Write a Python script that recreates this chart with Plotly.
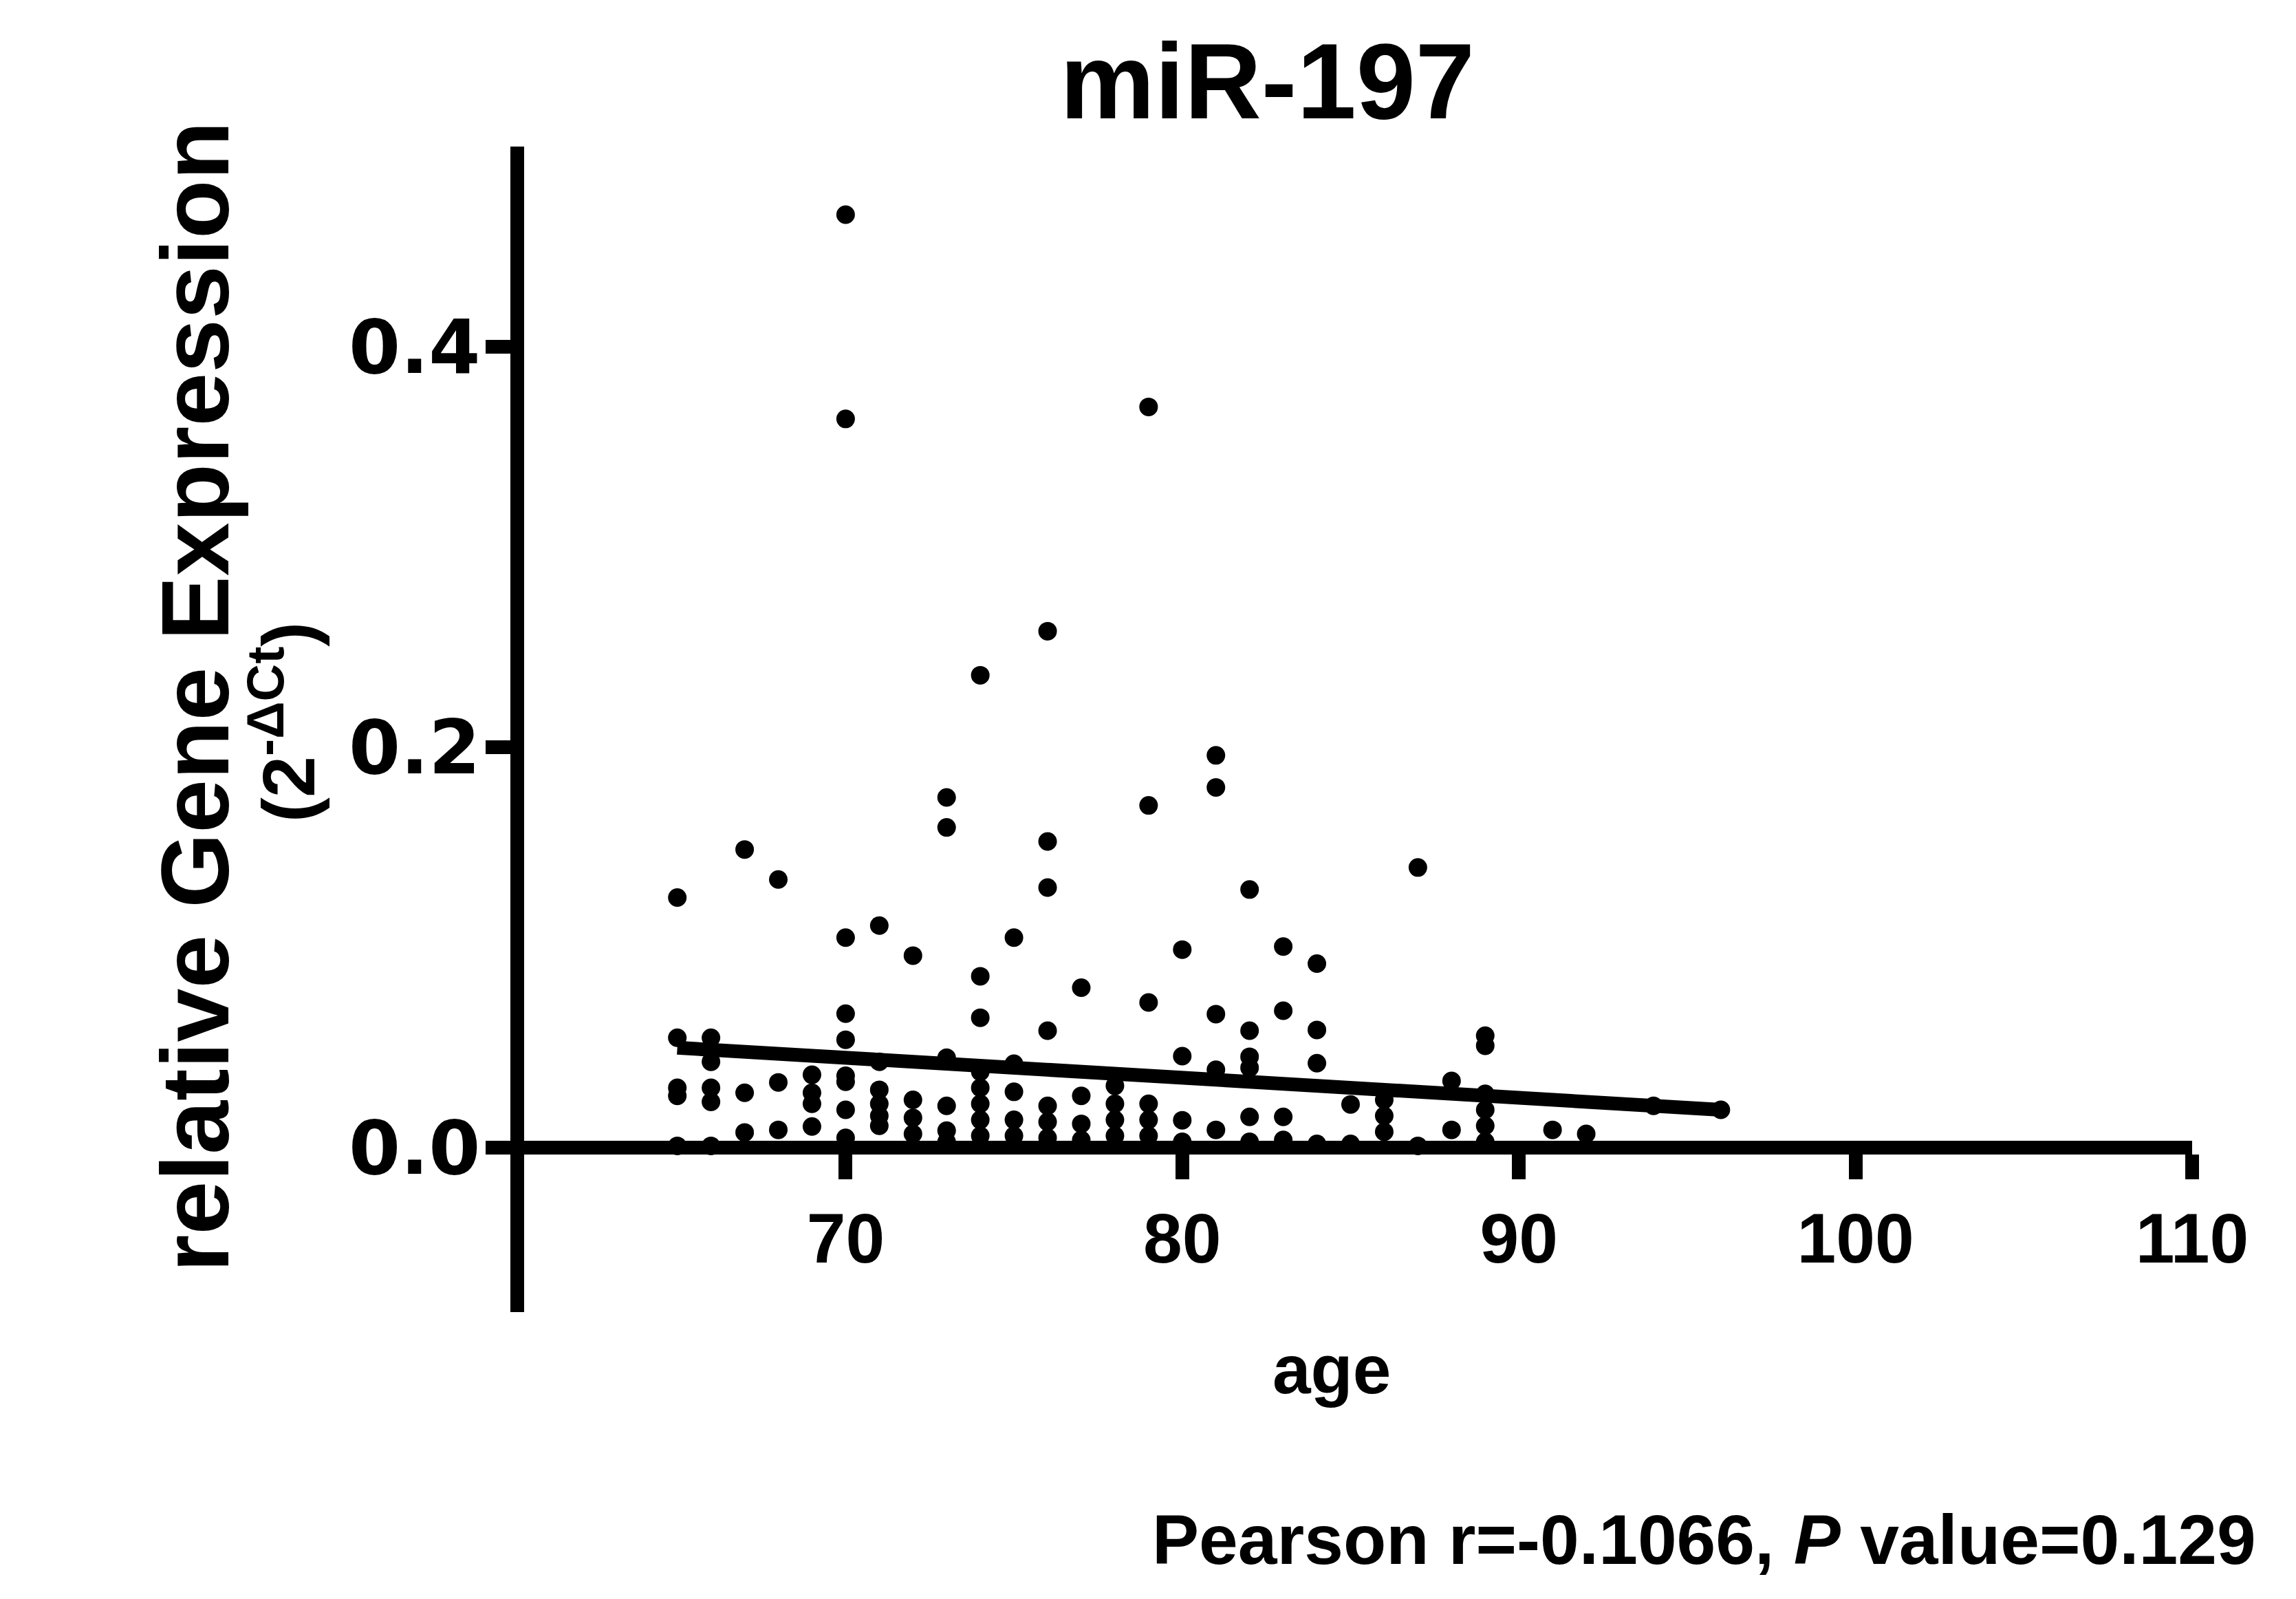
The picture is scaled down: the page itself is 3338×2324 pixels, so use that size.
import plotly.graph_objects as go

# ---- data ----
age = [
    65, 65, 65, 65, 65,
    66, 66, 66, 66, 66,
    67, 67, 67,
    68, 68, 68,
    69, 69, 69, 69,
    70, 70, 70, 70, 70, 70, 70, 70, 70,
    71, 71, 71, 71, 71, 71,
    72, 72, 72, 72,
    73, 73, 73, 73, 73, 73,
    74, 74, 74, 74, 74, 74, 74, 74,
    75, 75, 75, 75, 75,
    76, 76, 76, 76, 76, 76, 76,
    77, 77, 77, 77,
    78, 78, 78, 78,
    79, 79, 79, 79, 79, 79,
    80, 80, 80, 80,
    81, 81, 81, 81, 81,
    82, 82, 82, 82, 82, 82,
    83, 83, 83, 83,
    84, 84, 84, 84,
    85, 85,
    86, 86, 86,
    87, 87,
    88, 88,
    89, 89, 89, 89, 89, 89,
    91, 92, 94, 96,
]
expression = [
    0.125, 0.055, 0.030, 0.026, 0.001,
    0.055, 0.043, 0.030, 0.023, 0.001,
    0.149, 0.0275, 0.0077,
    0.134, 0.0327, 0.009,
    0.0365, 0.0275, 0.022, 0.0107,
    0.466, 0.364, 0.105, 0.067, 0.054, 0.036, 0.033, 0.019, 0.005,
    0.111, 0.043, 0.029, 0.022, 0.016, 0.011,
    0.096, 0.024, 0.015, 0.007,
    0.175, 0.160, 0.045, 0.021, 0.0086, 0.003,
    0.236, 0.0857, 0.065, 0.038, 0.030, 0.022, 0.014, 0.006,
    0.105, 0.042, 0.028, 0.014, 0.006,
    0.258, 0.153, 0.130, 0.0585, 0.021, 0.013, 0.005,
    0.080, 0.026, 0.012, 0.004,
    0.031, 0.022, 0.014, 0.006,
    0.370, 0.171, 0.0726, 0.022, 0.014, 0.006,
    0.099, 0.0458, 0.0138, 0.003,
    0.196, 0.180, 0.0668, 0.039, 0.009,
    0.129, 0.0585, 0.0455, 0.040, 0.0155, 0.003,
    0.1005, 0.0685, 0.0155, 0.004,
    0.092, 0.0589, 0.0423, 0.002,
    0.0217, 0.002,
    0.024, 0.016, 0.008,
    0.140, 0.001,
    0.0334, 0.009,
    0.056, 0.051, 0.027, 0.019, 0.011, 0.003,
    0.009, 0.007, 0.021, 0.019,
]
fit_age = [65, 96]
fit_expression = [0.050, 0.019]

x_range = [60, 110]
y_range = [-0.082, 0.5]
x_ticks = [70, 80, 90, 100, 110]
y_ticks = [0.0, 0.2, 0.4]
y_ticklabels = ["0.0", "0.2", "0.4"]

title_text = "miR-197"
ylabel_text = "relative Gene Expression"
ylabel2_text = "(2<sup>-ΔCt</sup>)"
xlabel_text = "age"
stats_text = "Pearson r=-0.1066, <i>P</i> value=0.129"

# ---- layout geometry (pixels) ----
W, H = 3338, 2324
L, R, T, B = 740, 151, 213, 417
PW, PH = W - L - R, H - T - B


def px(x):
    return (x - L) / PW


def py(y):
    return (H - B - y) / PH


sans = "Liberation Sans, Arial, sans-serif"
wide = "DejaVu Sans, Verdana, sans-serif"

fig = go.Figure()
fig.add_trace(go.Scatter(
    x=fit_age, y=fit_expression, mode="lines",
    line=dict(color="black", width=20), hoverinfo="skip",
))
fig.add_trace(go.Scatter(
    x=age, y=expression, mode="markers",
    marker=dict(color="black", size=27, line=dict(width=0)),
    cliponaxis=False,
))

fig.update_layout(
    width=W, height=H,
    margin=dict(l=L, r=R, t=T, b=B),
    paper_bgcolor="white", plot_bgcolor="white",
    showlegend=False,
    xaxis=dict(
        range=x_range, tickmode="array", tickvals=x_ticks,
        showline=True, linewidth=20, linecolor="black",
        ticks="outside", ticklen=36, tickwidth=20, tickcolor="black",
        showgrid=False, zeroline=False,
        anchor="free",
        position=(0 - y_range[0]) / (y_range[1] - y_range[0]),
        tickfont=dict(family=sans, size=102, color="black", weight="bold"),
        ticklabelstandoff=-2,
    ),
    yaxis=dict(
        range=y_range, tickmode="array", tickvals=y_ticks, ticktext=y_ticklabels,
        showline=True, linewidth=20, linecolor="black",
        ticks="outside", ticklen=36, tickwidth=20, tickcolor="black",
        showgrid=False, zeroline=False,
        anchor="free", position=12 / PW,
        tickfont=dict(family=wide, size=108, color="black", weight="bold"),
        ticklabelstandoff=-14,
    ),
)

ann = [
    dict(text=title_text, x=px(1842), y=py(118),
         font=dict(family=sans, size=155, color="black", weight="bold")),
    dict(text=ylabel_text, x=px(284), y=py(1013), textangle=-90,
         font=dict(family=sans, size=140, color="black", weight="bold")),
    dict(text=ylabel2_text, x=px(412), y=py(1050), textangle=-90,
         font=dict(family=sans, size=108, color="black", weight="bold")),
    dict(text=xlabel_text, x=px(1936), y=py(1990),
         font=dict(family=sans, size=100, color="black", weight="bold")),
    dict(text=stats_text, x=px(2477), y=py(2238),
         font=dict(family=sans, size=102, color="black", weight="bold")),
]
for a in ann:
    fig.add_annotation(xref="paper", yref="paper", showarrow=False,
                       xanchor="center", yanchor="middle", **a)

fig.write_html("out.html")
